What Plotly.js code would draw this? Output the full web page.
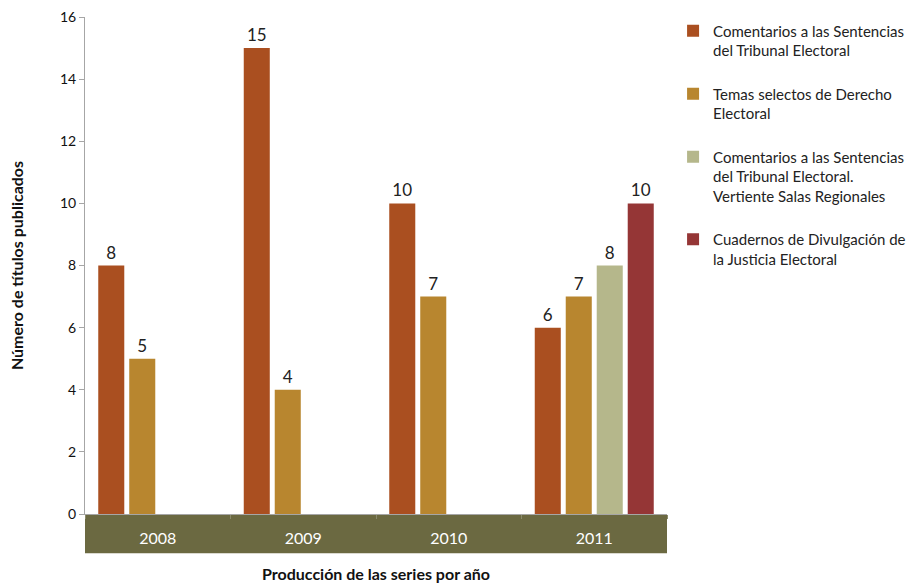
<!DOCTYPE html>
<html>
<head>
<meta charset="utf-8">
<script src="https://cdn.plot.ly/plotly-3.0.1.min.js"></script>
<style>html,body{margin:0;padding:0;background:#fff;}#chart{width:917px;height:583px;}</style>
</head>
<body>
<div id="chart"></div>
<script>
const years = ['2008', '2009', '2010', '2011'];
const seriesNames = [
  'Comentarios a las Sentencias<br>del Tribunal Electoral',
  'Temas selectos de Derecho<br>Electoral',
  'Comentarios a las Sentencias<br>del Tribunal Electoral.<br>Vertiente Salas Regionales',
  'Cuadernos de Divulgación de<br>la Justicia Electoral'
];
const comentarios = [8, 15, 10, 6];
const temasSelectos = [5, 4, 7, 7];
const salasRegionales = [null, null, null, 8];
const cuadernos = [null, null, null, 10];
const colors = ['#aa4f20', '#b8862f', '#b5b78b', '#953636'];

const seriesValues = [comentarios, temasSelectos, salasRegionales, cuadernos];
const traces = seriesValues.map((vals, i) => ({
  type: 'bar',
  name: seriesNames[i],
  x: years,
  y: vals,
  marker: {color: colors[i]},
  text: vals.map(v => v == null ? '' : String(v)),
  textposition: 'outside',
  textfont: {family: 'Lato, sans-serif', size: 17, color: '#222'},
  cliponaxis: false,
  legendgroup: 'g' + i,
  hoverinfo: 'x+y'
}));

const layout = {
  width: 917, height: 583,
  margin: {l: 85, r: 250, t: 17, b: 69},
  paper_bgcolor: '#fff', plot_bgcolor: '#fff',
  font: {family: 'Lato, sans-serif', color: '#222'},
  barmode: 'group',
  bargap: 0.148,
  bargroupgap: 0.16,
  showlegend: true,
  legend: {
    xref: 'container', yref: 'container',
    x: 0.734, xanchor: 'left', y: 0.975, yanchor: 'top',
    font: {family: 'Lato, sans-serif', size: 15, color: '#222'},
    valign: 'top',
    tracegroupgap: 21,
    traceorder: 'grouped',
    itemwidth: 30
  },
  xaxis: {
    type: 'category',
    showline: true, linecolor: '#a6a6a6', linewidth: 1,
    ticks: 'outside', tickson: 'boundaries', ticklen: 4, tickcolor: '#8a8a6a',
    tickfont: {family: 'Lato, sans-serif', size: 16, color: '#ffffff'},
    ticklabelstandoff: 10,
    showgrid: false, zeroline: false,
    automargin: false,
    title: {text: '<b>Producción de las series por año</b>', font: {family: 'Lato, sans-serif', size: 16, color: '#111'}, standoff: 22}
  },
  yaxis: {
    range: [0, 16], dtick: 2,
    showline: true, linecolor: '#a6a6a6', linewidth: 1,
    ticks: 'outside', ticklen: 5, tickcolor: '#a6a6a6',
    tickfont: {family: 'Lato, sans-serif', size: 14, color: '#111'},
    showgrid: false, zeroline: false,
    automargin: false,
    title: {text: '<b>Número de títulos publicados</b>', font: {family: 'Lato, sans-serif', size: 16, color: '#111'}, standoff: 32}
  },
  shapes: [{
    type: 'rect', xref: 'paper', yref: 'paper', layer: 'below',
    x0: 0, x1: 1, y0: 0, y1: -0.079,
    fillcolor: '#6b6941', line: {width: 0}
  }]
};

Plotly.newPlot('chart', traces, layout, {displayModeBar: false, staticPlot: true});
</script>
</body>
</html>
